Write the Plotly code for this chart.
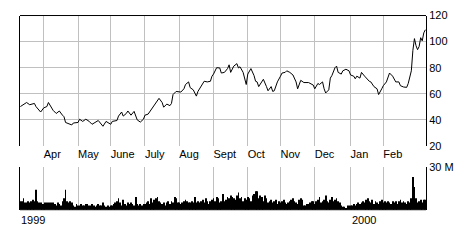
import pandas as pd
import plotly.graph_objects as go

# ---- data ----
start_day = "1999-03-11"

price_idx = [0, 2, 4, 6, 9, 10, 12, 13, 15, 17, 18, 20, 21, 23, 25, 27, 28, 29, 31, 33, 34, 37, 38, 40, 42, 44, 46, 48, 50, 53,
             55, 58, 59, 62, 63, 65, 66, 68, 69, 71, 73, 75, 77, 79, 80, 82, 85, 89, 91, 92, 94, 96, 97, 98, 100, 103, 105, 106,
             108, 109, 111, 113, 114, 116, 118, 120, 122, 123, 124, 126, 128, 129, 131, 133, 134, 135, 136, 137, 139, 140, 141,
             143, 145, 146, 148, 150, 151, 152, 153, 155, 156, 158, 159, 161, 162, 163, 165, 167, 168, 170, 171, 173, 175, 177,
             178, 180, 182, 185, 186, 188, 189, 191, 192, 194, 195, 196, 198, 199, 200, 202, 203, 204, 206, 207, 209, 211, 212,
             214, 215, 216, 218, 219, 221, 222, 224, 225, 227, 229, 230, 232, 233, 235, 237, 239, 240, 241, 243, 244, 246, 248,
             249, 250, 251, 252, 253, 254, 255, 256, 257, 258, 259, 260]
price_val = [50.2, 52.1, 53.3, 51.6, 52.6, 50.2, 47.3, 46, 49.2, 50.2, 53.3, 49.2, 47.3, 44.9, 46.8, 43.6, 42.4, 38, 37.1, 36.1,
             37.6, 38, 40.5, 38.8, 40.5, 39, 36.6, 38, 39.5, 35.1, 38.8, 36.6, 38.8, 39.5, 42.9, 46, 42.9, 44.9, 46.8, 43.6,
             46.5, 40, 38.3, 40.5, 43.6, 44.4, 49.7, 56.5, 53.3, 49.7, 52.1, 50.9, 52.6, 59.4, 61.8, 61.3, 63.8, 67.1, 69.1,
             64.7, 63, 58.2, 61.8, 65.5, 69.6, 69.1, 69.6, 73.5, 75.1, 80, 79.8, 75.9, 76.4, 79.3, 82.2, 76.4, 78.8, 81.2, 83.1,
             79.8, 80.7, 76.4, 67.1, 75.1, 79.3, 74, 69.6, 69.1, 65.5, 69.1, 71.1, 65.5, 62.3, 65.5, 61.8, 62.3, 69.1, 73.5,
             75.9, 76.4, 77.6, 76.4, 74.4, 69.1, 63.8, 70.3, 68.6, 68.6, 67.9, 66.7, 63.8, 67.9, 67.1, 69.1, 63.8, 60.6, 63,
             72, 74, 80, 81.2, 76.4, 75.1, 77.6, 78.8, 77.6, 74.4, 73.5, 71.5, 73.5, 72, 76.4, 73.5, 72, 69.6, 69.1, 65.5,
             63.8, 59.4, 63.8, 66.2, 69.1, 75.9, 73.5, 71.5, 69.1, 69.1, 66.2, 65.2, 64.9, 67.9, 72, 77.6, 93.3, 102.3, 96.9,
             93.8, 96.2, 103, 100.6, 106.7, 109.1]

# daily volume, millions of shares
volume = (
    [6, 6, 8, 5, 5, 6, 5, 6, 7, 6, 14, 6, 5, 5, 4] +                                   # Mar
    [4, 5, 5, 5, 5, 5, 5, 4, 3, 5, 4, 3, 6, 8, 14, 6, 5, 6, 5, 3, 2, 4] +             # Apr
    [3, 3, 4, 3, 3, 4, 4, 3, 3, 4, 3, 2, 3, 4, 3, 3, 5, 3, 2, 3, 2] +                 # May
    [3, 3, 4, 5, 6, 8, 5, 3, 7, 4, 3, 5, 4, 5, 4, 3, 9, 4, 3, 4, 3, 4] +              # Jun
    [4, 5, 6, 4, 8, 5, 7, 8, 9, 6, 5, 4, 5, 3, 5, 6, 4, 6, 5, 9, 8, 5] +              # Jul
    [5, 4, 5, 6, 7, 6, 5, 5, 6, 5, 9, 5, 6, 5, 6, 7, 5, 8, 6, 4, 6, 7] +              # Aug
    [8, 6, 9, 8, 5, 6, 11, 6, 7, 9, 8, 10, 9, 8, 7, 10, 12, 8, 9, 6, 8, 7] +          # Sep
    [9, 8, 6, 10, 11, 13, 13, 8, 10, 9, 6, 10, 8, 5, 6, 7, 5, 6, 7, 4, 6] +           # Oct
    [5, 6, 7, 5, 4, 5, 6, 7, 8, 6, 5, 4, 7, 8, 7, 3, 3, 4, 4, 5, 6, 6] +              # Nov
    [4, 6, 7, 9, 5, 6, 7, 10, 6, 5, 7, 9, 6, 7, 8, 6, 5, 3, 2, 2, 1, 3, 3] +          # Dec
    [3, 3, 4, 3, 4, 5, 4, 5, 6, 5, 7, 8, 6, 5, 7, 4, 6, 5, 4, 6, 7] +                 # Jan
    [5, 6, 5, 6, 5, 4, 6, 5, 6, 4, 6, 7, 5, 6, 5, 4, 6, 5, 8, 23, 16] +               # Feb
    [8, 5, 6, 7, 5, 7, 7]                                                              # Mar
)

month_ticks = ["1999-04-01", "1999-05-03", "1999-06-01", "1999-07-01", "1999-08-02", "1999-09-01",
               "1999-10-01", "1999-11-01", "1999-12-01", "2000-01-03", "2000-02-01"]
month_labels = ["Apr", "May", "June", "July", "Aug", "Sept", "Oct", "Nov", "Dec", "Jan", "Feb"]
price_ticks = [20, 40, 60, 80, 100, 120]
year_ticks = [start_day, "2000-01-03"]
year_labels = ["1999", "2000"]
vol_max = 30

# ---- build ----
days = pd.bdate_range(start_day, periods=len(volume))
price_dates = [days[i] for i in price_idx]

W, H = 470, 250
L, R = 20, 426
font = dict(family="Liberation Sans, Arial, sans-serif", size=11, color="black")
grid = "#c0c0c0"

vol_dom = [(H - 214) / H, (H - 169) / H]

fig = go.Figure()
fig.add_trace(go.Scatter(x=price_dates, y=price_val, mode="lines",
                         line=dict(color="black", width=1), xaxis="x", yaxis="y",
                         hoverinfo="skip"))
# volume shares the same x axis so its month gridlines are drawn in both panels
fig.add_trace(go.Bar(x=days, y=volume, width=0.55 * 86400000,
                     marker=dict(color="black", line=dict(width=0)),
                     xaxis="x", yaxis="y2", hoverinfo="skip"))

x_range = [days[0] - pd.Timedelta(hours=6), days[-1] + pd.Timedelta(hours=10)]
dom_x = [L / W, R / W]

shapes = [
    dict(type="line", xref="paper", yref="paper", x0=L / W, x1=R / W,
         y0=(H - 10) / H, y1=(H - 10) / H, line=dict(color="black", width=1)),
    dict(type="line", xref="paper", yref="paper", x0=L / W, x1=R / W,
         y0=vol_dom[0], y1=vol_dom[0], line=dict(color="black", width=1)),
]
annotations = [dict(x=d, y=vol_dom[0], xref="x", yref="paper", text=t, showarrow=False,
                    xanchor="left", yanchor="top", xshift=-1, yshift=-2, font=font)
               for d, t in zip(year_ticks, year_labels)]

fig.update_layout(
    width=W, height=H, margin=dict(l=0, r=0, t=0, b=0),
    paper_bgcolor="white", plot_bgcolor="white", showlegend=False,
    font=font,
    xaxis=dict(domain=dom_x, type="date", range=x_range, anchor="y",
               rangebreaks=[dict(bounds=["sat", "mon"])],
               tickmode="array", tickvals=month_ticks, ticktext=month_labels,
               ticklabelposition="outside right",
               showgrid=True, gridcolor=grid, gridwidth=1, ticks="",
               showline=False, zeroline=False, tickfont=font),
    yaxis=dict(domain=[(H - 147) / H, (H - 10) / H], range=[20, 120], side="right",
               anchor="x", tickmode="array", tickvals=price_ticks,
               showgrid=True, gridcolor=grid, gridwidth=1, ticks="",
               showline=True, linecolor="black", linewidth=1, mirror=True,
               zeroline=False, tickfont=font),
    yaxis2=dict(domain=vol_dom, range=[0, vol_max], side="right",
                anchor="x", tickmode="array", tickvals=[vol_max], ticktext=["30 M"],
                showgrid=True, gridcolor=grid, gridwidth=1, ticks="",
                showline=True, linecolor="black", linewidth=1, mirror=True,
                zeroline=False, tickfont=font),
    shapes=shapes,
    annotations=annotations,
)

fig.write_html("out.html")
